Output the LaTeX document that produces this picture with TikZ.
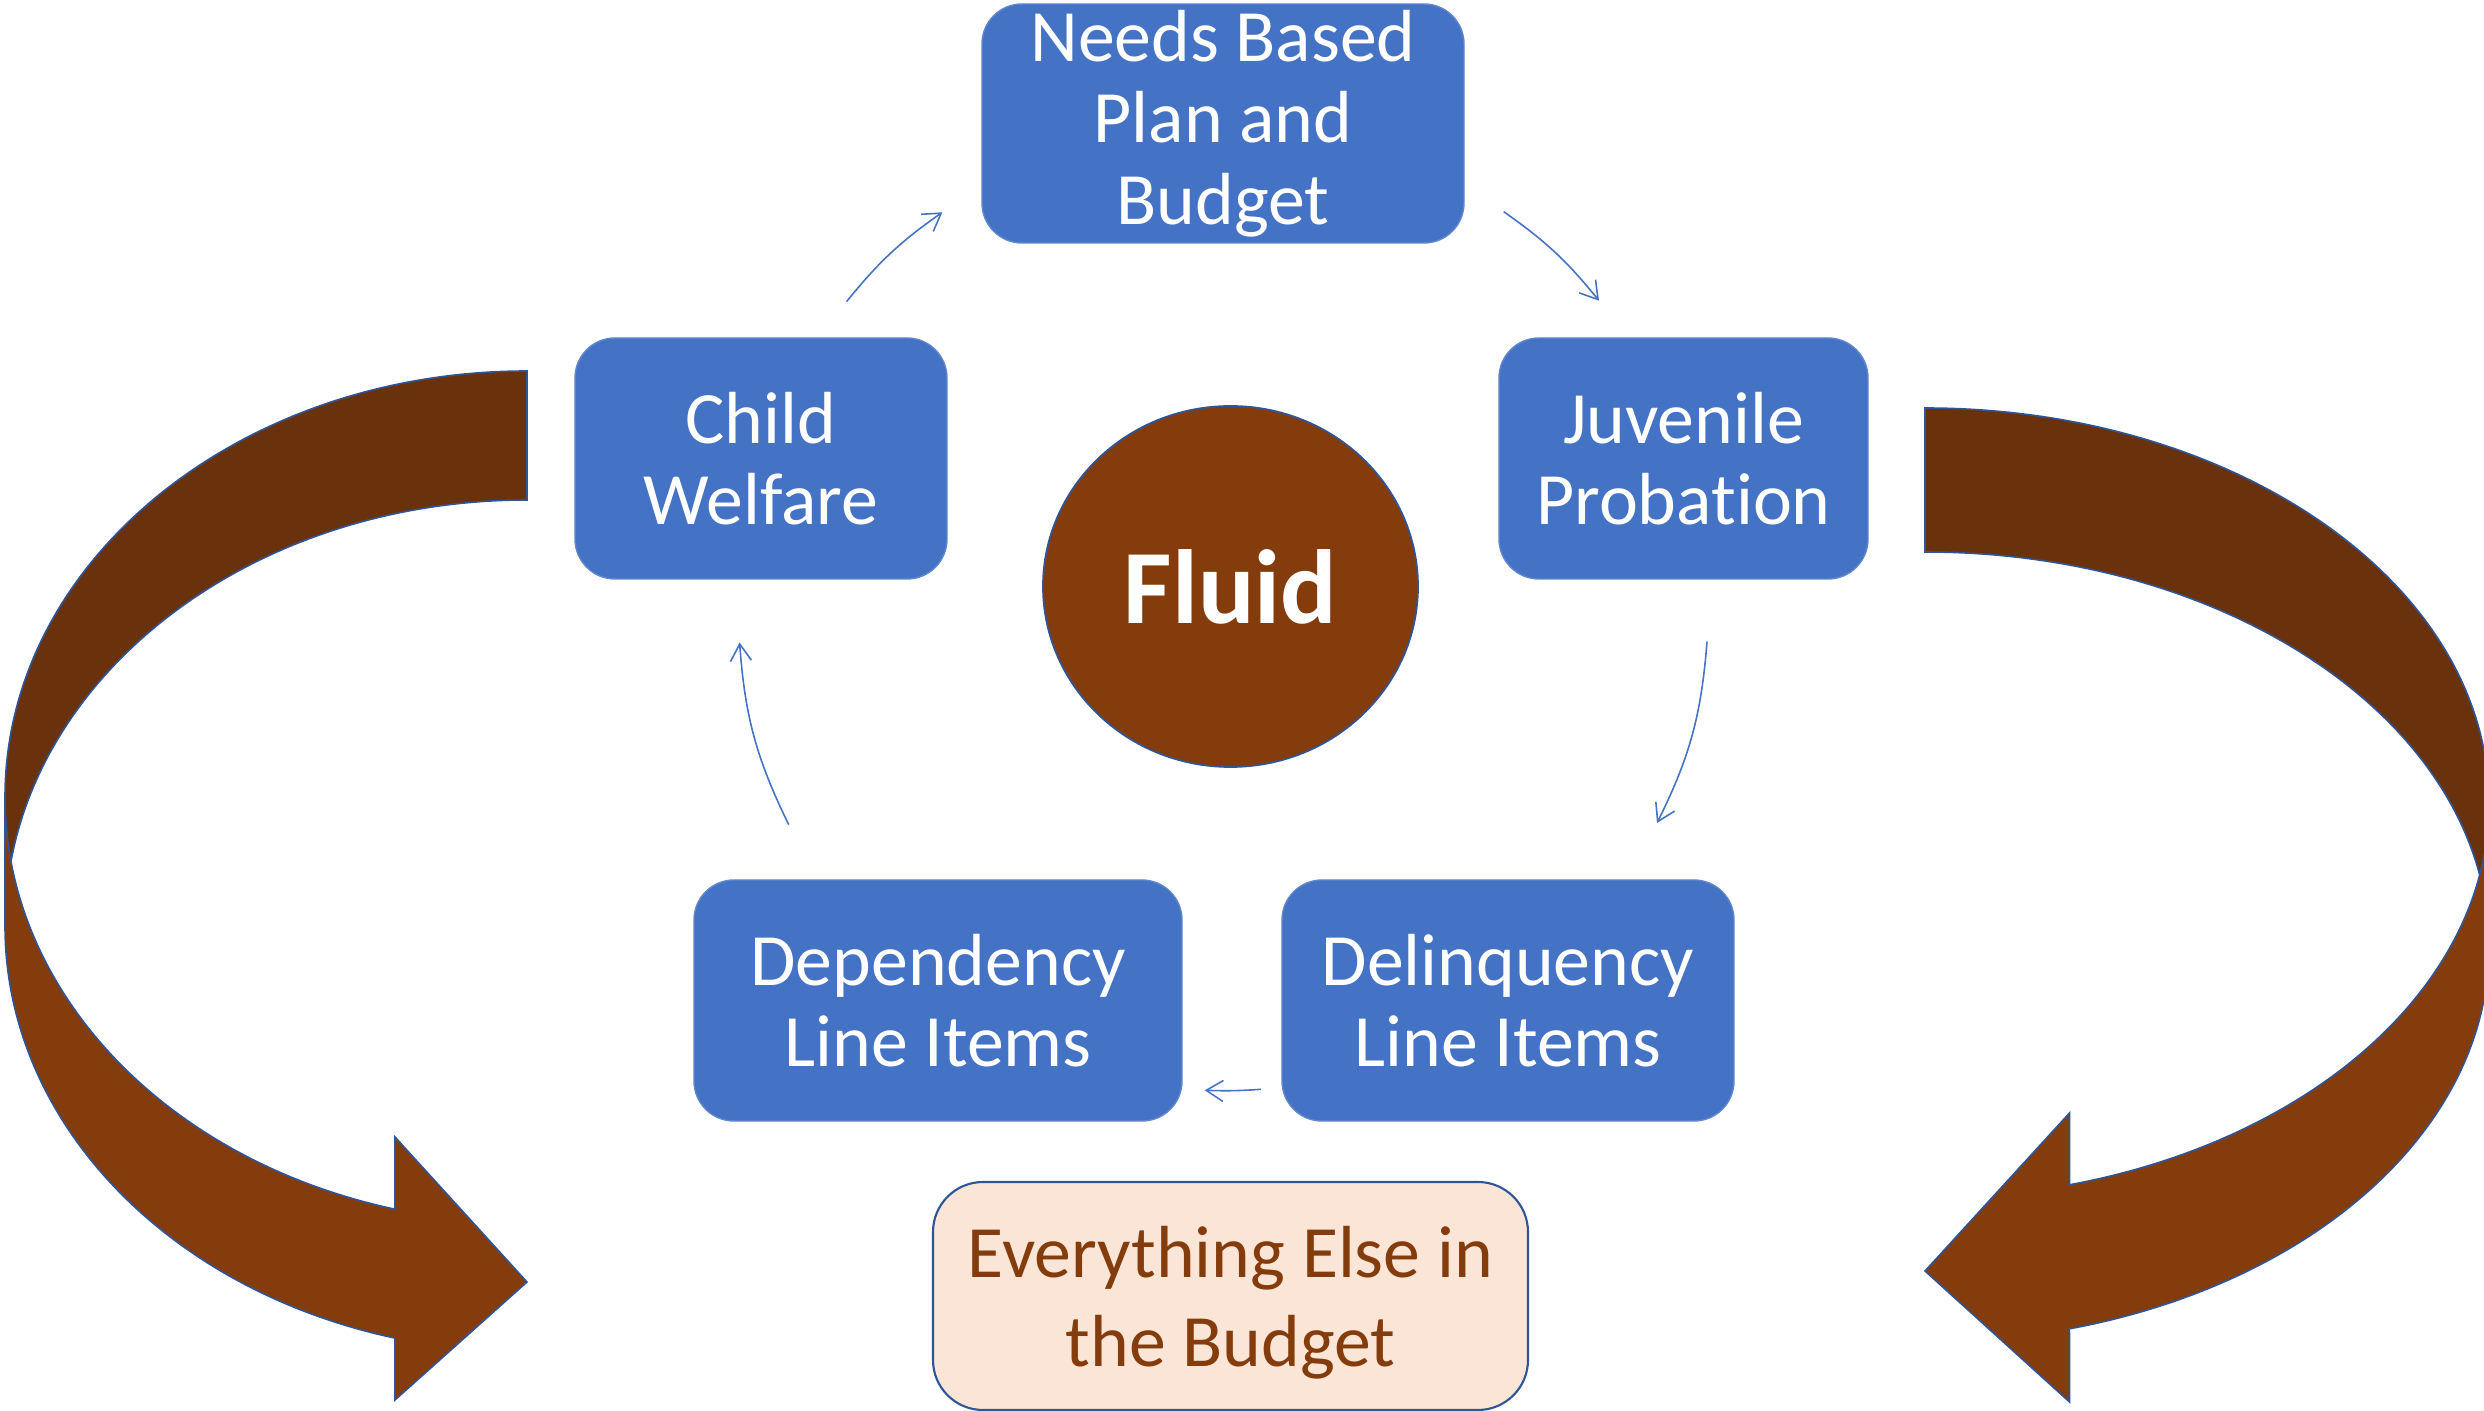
\documentclass[tikz,border=0pt]{standalone}
\usepackage{fontspec}
\setmainfont{Carlito}[Ligatures=NoCommon]
\usetikzlibrary{shapes.geometric, arrows.meta}

\definecolor{boxblue}{HTML}{4472C4}
\definecolor{edgeblue}{HTML}{2F5597}
\definecolor{rust}{HTML}{843C0C}
\definecolor{rustdark}{HTML}{6A320C}
\definecolor{peach}{HTML}{FBE5D6}

\tikzset{
    stage/.style={rectangle, rounded corners=0.4cm, fill=boxblue, draw=boxblue!85!white,
        line width=0.4pt, text=white, align=center, inner sep=0pt,
        font=\fontsize{21pt}{23.2pt}\selectfont},
    link/.style={draw=boxblue, line width=0.45pt, -{Straight Barb[length=1.7mm, width=2.1mm]}},
    band/.style={draw=edgeblue, line width=0.45pt},
}

\begin{document}
\begin{tikzpicture}
    \useasboundingbox (0,0) rectangle (24.84,14.11);
    \clip (0,0) rectangle (24.84,14.11);

    % Left curved arrow
    \filldraw [band, fill=rustdark] (5.27,10.40)
        arc [start angle=90, end angle=180, x radius=5.22, y radius=4.26] -- (0.05,4.85)
        arc [start angle=180, end angle=90, x radius=5.22, y radius=4.26] -- cycle;
    \filldraw [band, fill=rust] (0.05,6.14) -- (0.05,4.85)
        arc [start angle=180, end angle=255.35, x radius=5.22, y radius=4.26]
        -- (3.95,0.11) -- (5.27,1.29) -- (3.95,2.74) -- (3.95,2.018)
        arc [start angle=255.35, end angle=180, x radius=5.22, y radius=4.26] -- cycle;

    % Right curved arrow
    \filldraw [band, fill=rustdark] (19.25,10.03)
        arc [start angle=90, end angle=0, x radius=5.64, y radius=3.95] -- (24.89,4.64)
        arc [start angle=0, end angle=90, x radius=5.64, y radius=3.95] -- cycle;
    \filldraw [band, fill=rust] (24.89,6.08) -- (24.89,4.64)
        arc [start angle=0, end angle=-75.16, x radius=5.64, y radius=3.95]
        -- (20.695,0.09) -- (19.25,1.40) -- (20.695,2.98) -- (20.695,2.262)
        arc [start angle=-75.16, end angle=0, x radius=5.64, y radius=3.95] -- cycle;

    % Cycle boxes
    \node [stage, minimum width=4.82cm, minimum height=2.39cm] (nb) at (12.23,12.875) {Needs Based\\Plan and\\Budget};
    \node [stage, minimum width=3.72cm, minimum height=2.41cm] (cw) at (7.61,9.525) {Child\\Welfare};
    \node [stage, minimum width=3.69cm, minimum height=2.41cm] (jp) at (16.835,9.525) {Juvenile\\Probation};
    \node [stage, minimum width=4.88cm, minimum height=2.41cm] (dep) at (9.38,4.105) {Dependency\\Line Items};
    \node [stage, minimum width=4.52cm, minimum height=2.41cm] (del) at (15.08,4.105) {Delinquency\\Line Items};

    \node [ellipse, fill=rust, draw=edgeblue, line width=0.5pt, inner sep=0pt,
        minimum width=3.75cm, minimum height=3.61cm, text=white,
        font=\fontsize{30pt}{36pt}\selectfont\bfseries] (fl) at (12.305,8.245) {Fluid};

    \node [rectangle, rounded corners=0.5cm, fill=peach, draw=edgeblue, line width=0.6pt,
        text=rust, align=center, inner sep=0pt, minimum width=5.95cm, minimum height=2.28cm,
        text depth=0pt, font=\fontsize{21pt}{25.3pt}\selectfont] (ee) at (12.305,1.15) {Everything Else in\\the Budget};

    % Connector ends
    \coordinate (cwout) at (8.465,11.093);
    \coordinate (nbin) at (9.424,11.987);
    \coordinate (nbout) at (15.037,11.993);
    \coordinate (jpin) at (15.99,11.103);
    \coordinate (jpout) at (17.07,7.694);
    \coordinate (delin) at (16.57,5.88);
    \coordinate (delout) at (12.609,3.217);
    \coordinate (depin) at (12.047,3.207);
    \coordinate (depout) at (7.887,5.864);
    \coordinate (cwin) at (7.396,7.685);

    \draw [link] (cwout) to [bend left=8] (nbin);
    \draw [link] (nbout) to [bend left=8] (jpin);
    \draw [link] (jpout) to [bend left=11] (delin);
    \draw [link] (delout) to [bend left=3] (depin);
    \draw [link] (depout) to [bend left=11] (cwin);
\end{tikzpicture}
\end{document}
